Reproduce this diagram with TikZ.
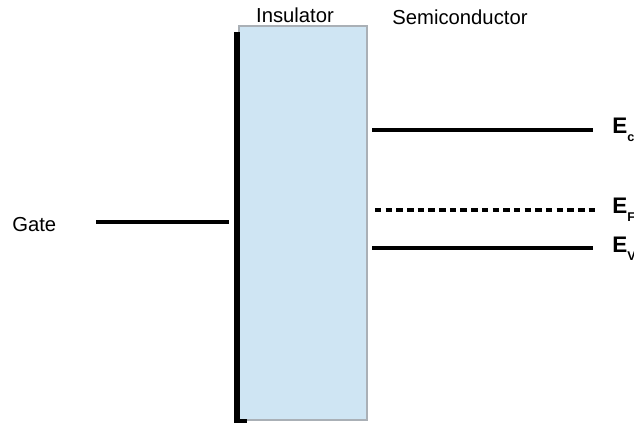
\documentclass[tikz,border=0pt]{standalone}
\usepackage{fontspec}
\setmainfont{Liberation Sans}
\usetikzlibrary{positioning}

% energy level label: bold E with a small lowered index
\newcommand{\elevel}[1]{\textbf{E\raisebox{-0.7ex}{\fontsize{9}{9}\selectfont #1}}}

\tikzset{
  lbl/.style={font=\fontsize{14.4}{16}\selectfont, inner sep=0pt},
  elbl/.style={font=\fontsize{16}{18}\selectfont, inner sep=0pt, anchor=west},
  level/.style={line width=2.3pt},
}

\begin{document}
\begin{tikzpicture}[x=0.025cm, y=-0.025cm]
  \useasboundingbox (0,0) rectangle (634,423);
  % insulator layer and gate metal
  \fill[fill={rgb,255:red,207;green,229;blue,243}, draw={rgb,255:red,170;green,176;blue,182}, line width=0.8pt]
    (239,26) rectangle (367,420);
  \fill (234,32) rectangle (239.5,423);
  \fill (234,419) rectangle (246.5,423);
  \node[lbl] (ins) at (295,15) {Insulator};
  \node[lbl] (semi) at (460,17) {Semiconductor};
  % gate level
  \node[lbl, anchor=west] (gate) at (12,225) {Gate};
  \coordinate (g1) at (96,222);
  \coordinate (g2) at (229,222);
  \draw[level] (g1) -- (g2);
  % semiconductor bands
  \coordinate (c1) at (372,130);
  \coordinate (c2) at (593,130);
  \coordinate (f1) at (375,210);
  \coordinate (f2) at (595,210);
  \coordinate (v1) at (372,248);
  \coordinate (v2) at (593,248);
  \draw[level] (c1) -- (c2);
  \draw[level, dash pattern=on 4.6pt off 3pt] (f1) -- (f2);
  \draw[level] (v1) -- (v2);
  \node[elbl] (ec) at (612,130) {\elevel{c}};
  \node[elbl] (ef) at (612,210) {\elevel{F}};
  \node[elbl] (ev) at (612,249) {\elevel{V}};
\end{tikzpicture}
\end{document}
